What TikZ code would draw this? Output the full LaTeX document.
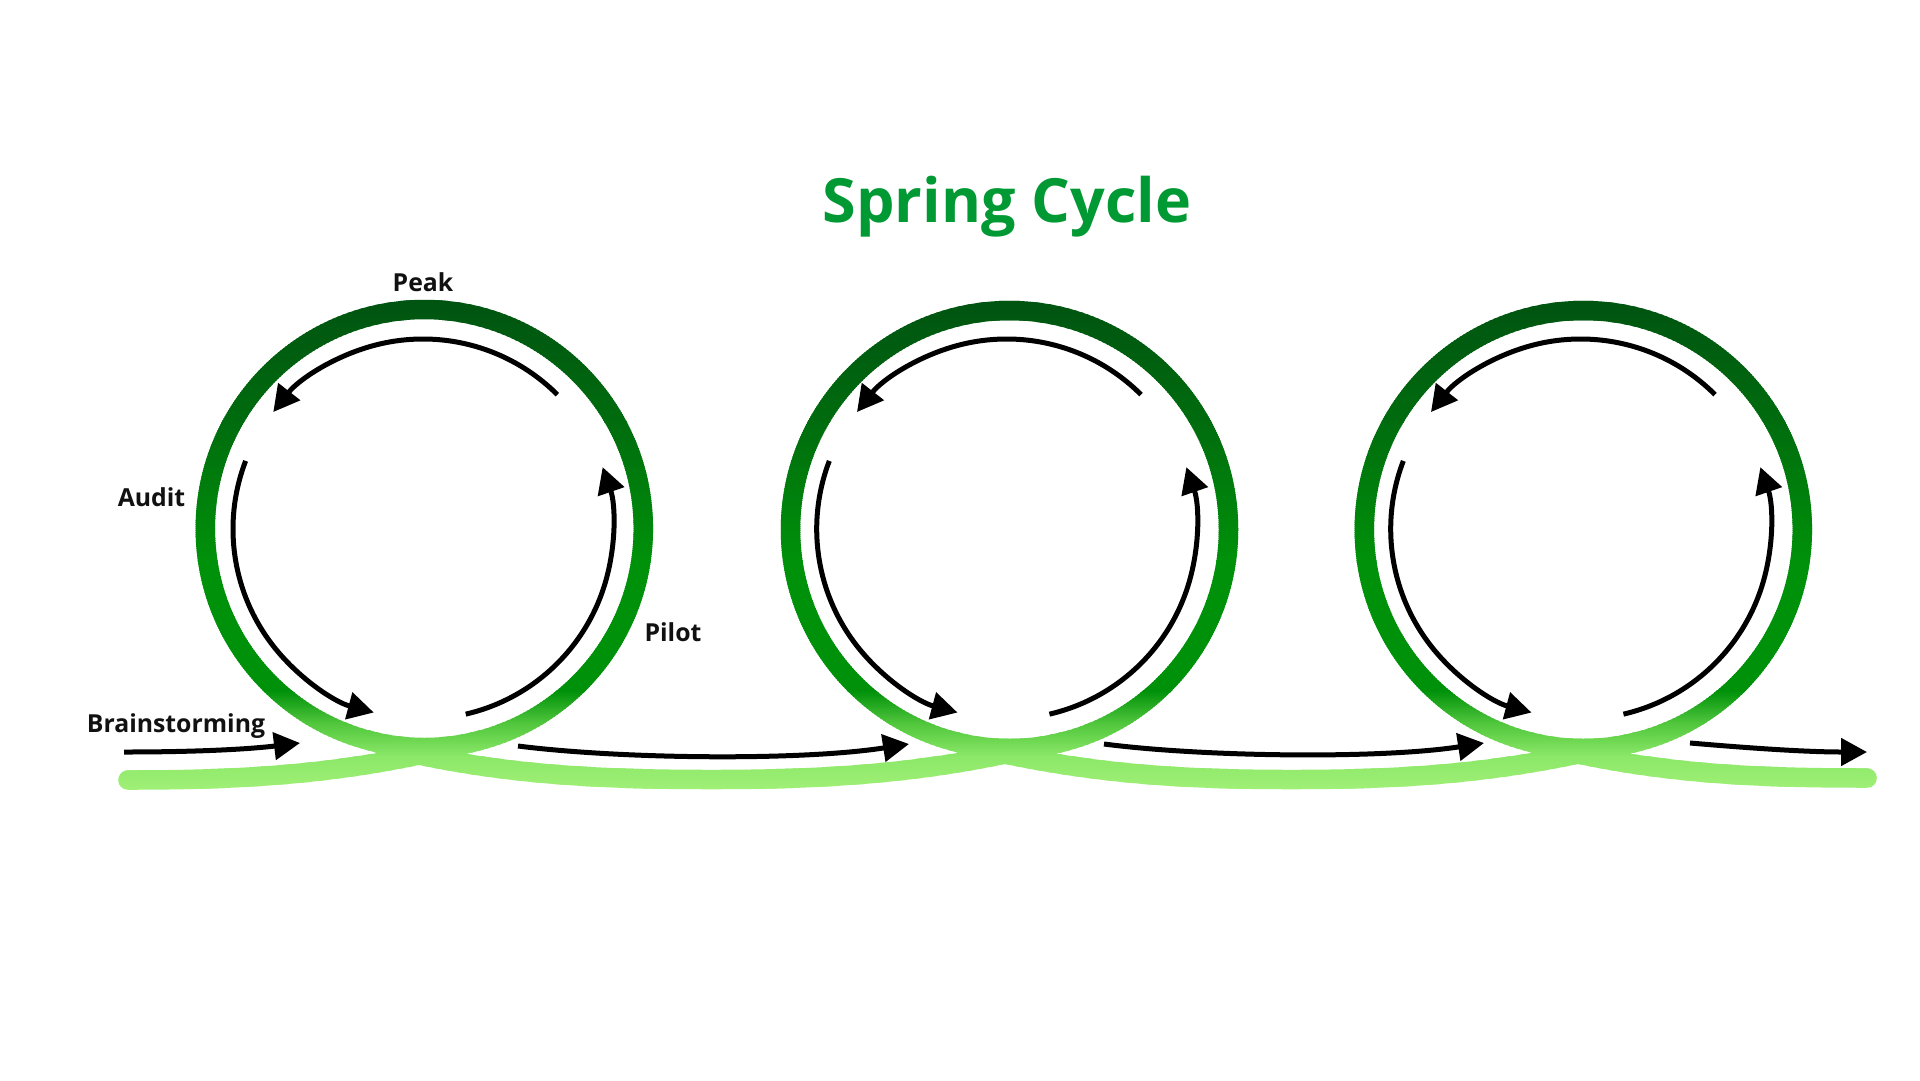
\documentclass[tikz,border=0pt]{standalone}
\usepackage{fontspec}
\setmainfont{Open Sans}
\usetikzlibrary{arrows.meta}
\definecolor{gA}{RGB}{0,82,17}
\definecolor{gB}{RGB}{0,108,14}
\definecolor{gC}{RGB}{0,145,10}
\definecolor{gD}{RGB}{80,198,60}
\definecolor{gE}{RGB}{140,232,105}
\definecolor{gF}{RGB}{166,243,122}
\definecolor{titlegreen}{RGB}{0,153,51}
\definecolor{labelc}{RGB}{17,17,17}
\newcommand\SpringPath{%
  \draw[greenline,draw=gc] (G1) circle[radius=219] (G2) circle[radius=219] (G3) circle[radius=219];
  \draw[greenline,draw=gc]
    (S) .. controls +(100,0) and +(-100,21) .. (X1) .. controls +(17,-3.6) and +(-17.4,4.7) .. (TR1)
    (TL1) .. controls +(17.4,4.7) and +(-17,-3.6) .. (X1) .. controls +(100,21) and +(-100,0) .. (V1)
          .. controls +(100,0) and +(-100,21) .. (X2) .. controls +(17,-3.6) and +(-17.4,4.7) .. (TR2)
    (TL2) .. controls +(17.4,4.7) and +(-17,-3.6) .. (X2) .. controls +(100,21) and +(-100,0) .. (V2)
          .. controls +(100,0) and +(-100,21) .. (X3) .. controls +(17,-3.6) and +(-17.4,4.7) .. (TR3)
    (TL3) .. controls +(17.4,4.7) and +(-17,-3.6) .. (X3) .. controls +(100,21) and +(-100,0) .. (E);
}
\begin{document}
\begin{tikzpicture}[x=1pt,y=-1pt,
  greenline/.style={line width=19.5pt, line cap=round},
  flow/.style={line width=5pt, draw=black, -{Triangle[length=26pt,width=27pt]}},
  lbl/.style={font=\fontsize{24.8}{30}\selectfont\bfseries, text=labelc, anchor=base, inner sep=0pt},
  ttl/.style={font=\fontsize{61}{70}\selectfont\bfseries, text=titlegreen, anchor=base, inner sep=0pt}]
\useasboundingbox[fill=white] (0,0) rectangle (1920,1080);
% green loop centres
\coordinate (G1) at (424.3,528.5);
\coordinate (G2) at (1009.5,529.5);
\coordinate (G3) at (1583.3,529.5);
% wave points
\coordinate (S) at (128,780);
\coordinate (X1) at (419,755);
\coordinate (V1) at (712,779.5);
\coordinate (X2) at (1005,754);
\coordinate (V2) at (1291.5,779.5);
\coordinate (X3) at (1578,754);
\coordinate (E) at (1867,778);
\coordinate (TL1) at (367.6,740.0);
\coordinate (TR1) at (481.0,740.0);
\coordinate (TL2) at (952.8,741.0);
\coordinate (TR2) at (1066.2,741.0);
\coordinate (TL3) at (1526.6,741.0);
\coordinate (TR3) at (1640.0,741.0);
% gradient-stroked spring
\foreach \ya/\yb/\ca/\cb in {290/420/gA/gB,420/560/gB/gC,560/690/gC/gC,690/722/gC/gD,722/756/gD/gE,756/800/gE/gF}{
  \pgfmathtruncatemacro\ysecond{\ya+2}
  \foreach \y in {\ya,\ysecond,...,\yb}{
    \pgfmathtruncatemacro\p{100*(\y-\ya)/(\yb-\ya)}
    \colorlet{gc}{\cb!\p!\ca}
    \begin{scope}
      \clip (0,\y) rectangle (1920,\y+2.6);
      \SpringPath
    \end{scope}
  }
}
% black arrow centres
\coordinate (B1) at (423,529);
\coordinate (B2) at (1006.7,529);
\coordinate (B3) at (1580.7,529);
\foreach \c in {B1,B2,B3}{
  \draw[flow] (\c) ++(-45:190) arc[start angle=-45, end angle=-142, radius=190];
  \draw[flow] (\c) ++(-159:190) arc[start angle=-159, end angle=-255, radius=190];
  \draw[flow] (\c) ++(-283:190) arc[start angle=-283, end angle=-379, radius=190];
}
% bottom arrows
\coordinate (a0s) at (124,752);
\coordinate (a0e) at (300,743);
\coordinate (a1s) at (518,746);
\coordinate (a1e) at (909,744);
\coordinate (a2s) at (1104,744);
\coordinate (a2e) at (1484,743);
\coordinate (a3s) at (1690,743);
\coordinate (a3e) at (1867,752);
\draw[flow] (a0s) .. controls +(76,0) and +(-50,6) .. (a0e);
\draw[flow] (a1s) .. controls +(102,13) and +(-109,17) .. (a1e);
\draw[flow] (a2s) .. controls +(100,13) and +(-104,16) .. (a2e);
\draw[flow] (a3s) .. controls +(70,6) and +(-57,0) .. (a3e);
% labels
\node[ttl] (title) at (1007,222) {Spring Cycle};
\node[lbl] (peak) at (423,291.7) {Peak};
\node[lbl] (audit) at (151.5,506) {Audit};
\node[lbl] (pilot) at (673,641.7) {Pilot};
\node[lbl] (brain) at (176,732) {Brainstorming};
\end{tikzpicture}
\end{document}
